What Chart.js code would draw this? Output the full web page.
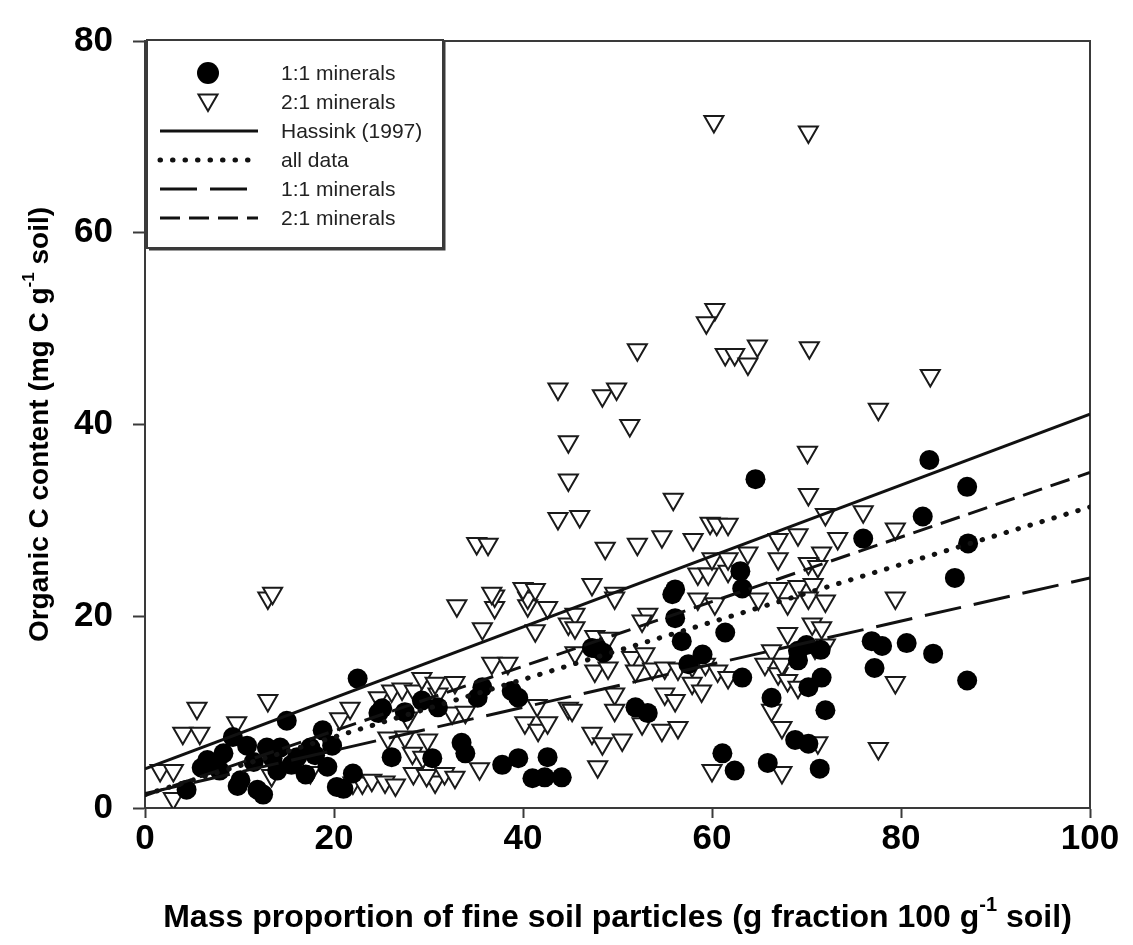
<!DOCTYPE html>
<html><head><meta charset="utf-8">
<script src="https://cdn.jsdelivr.net/npm/chart.js@4/dist/chart.umd.min.js"></script>
<style>html,body{margin:0;padding:0;background:#fff;}#wrap{width:1133px;height:945px;}</style>
</head><body><div id="wrap"><canvas id="c" width="1133" height="945"></canvas></div>
<script>
// ---- data ----
const xTicks = [0, 20, 40, 60, 80, 100];
const yTicks = [0, 20, 40, 60, 80];
const legendLabels = ['1:1 minerals', '2:1 minerals', 'Hassink (1997)', 'all data', '1:1 minerals', '2:1 minerals'];
const xTitleParts = ['Mass proportion of fine soil particles (g fraction 100 g', '-1', ' soil)'];
const yTitleParts = ['Organic C content (mg C g', '-1', ' soil)'];

const min11X = [4.4,6.0,6.6,7.9,8.3,9.3,9.8,10.1,10.8,11.5,11.9,12.5,12.9,13.5,14.0,14.3,15.0,15.5,16.1,17.0,17.5,18.0,18.8,19.3,19.8,20.3,21.0,22.0,22.5,
  24.7,25.1,26.1,27.5,29.3,30.4,31.0,33.5,33.9,35.2,35.7,37.8,38.8,39.5,39.5,41.0,42.3,42.6,44.1,
  47.3,47.9,48.5,51.9,53.2,55.8,56.1,56.1,56.8,57.5,59.0,61.1,61.4,62.4,63.0,63.2,63.2,64.6,65.9,66.3,68.8,69.1,69.1,70.0,70.2,70.2,71.4,71.5,71.6,72.0,76.0,76.9,77.2,78.0,80.6,82.3,83.0,83.4,85.7,87.0,87.0,87.1];
const min11Y = [1.9,4.2,5.0,3.9,5.7,7.4,2.3,2.9,6.5,4.8,1.9,1.4,6.3,5.2,3.9,6.3,9.1,4.5,5.3,3.5,6.3,5.5,8.1,4.3,6.5,2.2,2.0,3.6,13.5,
  9.9,10.4,5.3,10.0,11.2,5.2,10.5,6.8,5.7,11.5,12.6,4.5,12.2,11.5,5.2,3.1,3.2,5.3,3.2,
  16.7,16.6,16.2,10.5,9.9,22.3,19.8,22.8,17.4,15.0,16.0,5.7,18.3,3.9,24.7,13.6,22.9,34.3,4.7,11.5,7.1,16.4,15.4,17.0,12.6,6.7,4.1,16.5,13.6,10.2,28.1,17.4,14.6,16.9,17.2,30.4,36.3,16.1,24.0,33.5,13.3,27.6];

const min21X = [1.6,3.0,3.0,4.0,5.8,5.5,9.7,13.0,13.0,13.5,13.4,17.5,20.6,21.7,22.0,
  23.0,24.0,25.4,26.5,30.7,28.4,29.8,31.7,32.8,35.4,28.3,29.4,25.7,27.5,29.9,27.8,32.5,33.9,24.7,26.1,27.2,28.5,31.0,29.3,30.7,32.8,36.7,38.4,35.7,41.3,33.0,37.0,37.0,40.5,40.5,42.6,44.8,36.7,40.0,41.3,35.1,36.3,40.2,41.6,42.6,41.5,44.8,
  43.7,44.8,44.8,43.7,46.0,48.4,49.9,51.3,52.1,55.9,48.7,52.1,54.7,58.0,59.8,60.5,61.7,67.0,47.3,49.7,58.5,59.6,61.7,60.0,61.7,63.8,67.0,67.0,
  60.2,70.2,60.3,59.4,61.4,62.4,63.8,64.8,70.3,83.1,
  45.5,45.5,45.5,49.7,53.2,52.6,47.6,49.0,58.5,60.3,64.9,51.5,52.9,47.6,49.0,51.9,53.7,55.0,56.4,57.9,59.3,60.6,61.7,57.9,58.9,55.0,56.1,49.7,45.2,49.7,52.9,52.6,54.7,56.4,47.3,48.4,50.5,47.9,60.0,66.3,65.6,67.0,66.3,67.4,67.4,
  77.6,70.1,70.2,72.0,76.0,69.1,73.3,79.4,71.6,70.2,71.2,69.1,70.7,79.4,68.0,70.2,72.0,70.6,71.6,68.0,70.9,72.0,67.4,68.0,69.1,79.4,71.2,77.6];
const min21Y = [3.9,3.9,1.0,7.8,7.8,10.4,8.9,11.2,21.9,22.4,3.4,3.7,9.3,10.4,2.6,
  2.6,2.9,2.7,2.4,2.7,3.6,3.4,3.6,3.2,4.1,5.7,5.3,7.3,7.4,7.1,9.4,9.9,10.0,11.5,12.2,12.4,12.2,11.9,13.5,13.0,13.1,15.1,15.1,18.7,18.5,21.1,20.9,22.1,21.1,21.9,20.9,19.2,22.4,22.9,22.8,27.6,27.5,8.9,8.1,8.9,10.7,10.4,
  43.7,38.2,34.2,30.2,30.4,43.0,43.7,39.9,47.8,32.2,27.1,27.5,28.3,28.0,29.7,29.6,29.6,28.0,23.3,22.4,24.4,24.4,24.7,26.0,26.0,26.6,26.0,22.9,
  71.6,70.5,52.0,50.6,47.3,47.3,46.3,48.2,48.0,45.1,
  20.2,18.8,16.2,21.9,20.2,19.5,17.9,17.7,21.8,21.3,21.8,15.7,16.1,14.3,14.6,14.3,14.5,14.6,14.5,14.8,15.0,14.3,13.6,13.0,12.2,11.9,11.2,11.9,10.2,10.2,9.9,8.8,8.1,8.4,7.8,6.7,7.1,4.3,3.9,16.4,15.0,14.0,10.2,8.4,3.7,
  41.6,37.1,32.7,30.6,30.9,28.5,28.1,29.1,26.6,25.5,25.2,23.1,23.3,21.9,21.3,21.9,21.6,19.2,18.8,18.2,16.7,17.0,15.0,13.3,12.6,13.1,6.8,6.2];

const lineX = [0, 100];
const hassinkY = [4.09, 41.09];
const allDataY = [1.4, 31.4];
const fit11Y = [1.5, 24.0];
const fit21Y = [1.3, 35.0];

// ---- build ----
const pts = (xs, ys) => xs.map((x, i) => ({x, y: ys[i]}));
const FONT = '"Liberation Sans", Arial, Helvetica, sans-serif';
const INK = '#111';
const FRAME = '#3a3a3a';

const datasets = [
  {label: legendLabels[0], type: 'scatter', data: pts(min11X, min11Y), order: 1,
   pointStyle: 'circle', pointRadius: 10, pointHoverRadius: 10, backgroundColor: '#000', borderColor: '#000', borderWidth: 0},
  {label: legendLabels[1], type: 'scatter', data: pts(min21X, min21Y), order: 2,
   pointStyle: 'triangle', rotation: 180, pointRadius: 11, pointHoverRadius: 11, backgroundColor: '#fff', borderColor: '#1a1a1a', borderWidth: 2},
  {label: legendLabels[2], type: 'line', data: pts(lineX, hassinkY), order: 0,
   borderColor: INK, borderWidth: 3, pointRadius: 0, fill: false, borderDash: []},
  {label: legendLabels[3], type: 'line', data: pts(lineX, allDataY), order: 0,
   borderColor: INK, borderWidth: 5, pointRadius: 0, fill: false, borderDash: [0.5, 12], borderCapStyle: 'round'},
  {label: legendLabels[4], type: 'line', data: pts(lineX, fit11Y), order: 0,
   borderColor: INK, borderWidth: 3, pointRadius: 0, fill: false, borderDash: [37, 13]},
  {label: legendLabels[5], type: 'line', data: pts(lineX, fit21Y), order: 0,
   borderColor: INK, borderWidth: 3, pointRadius: 0, fill: false, borderDash: [20, 9]}
];

const framePlugin = {
  id: 'frame',
  beforeDatasetsDraw(chart) {
    const {ctx, chartArea: a} = chart;
    ctx.save();
    ctx.strokeStyle = FRAME; ctx.lineWidth = 2;
    ctx.strokeRect(a.left, a.top, a.right - a.left, a.bottom - a.top);
    ctx.restore();
  }
};

function drawSupText(ctx, parts, size, cx, cy) {
  const main = 'bold ' + size + 'px ' + FONT;
  const sup = 'bold ' + Math.round(size * 0.62) + 'px ' + FONT;
  ctx.font = main; const w0 = ctx.measureText(parts[0]).width; const w2 = ctx.measureText(parts[2]).width;
  ctx.font = sup; const w1 = ctx.measureText(parts[1]).width;
  let x = cx - (w0 + w1 + w2) / 2;
  ctx.textBaseline = 'middle'; ctx.textAlign = 'left';
  ctx.font = main; ctx.fillText(parts[0], x, cy); x += w0;
  ctx.font = sup; ctx.fillText(parts[1], x, cy - size * 0.38); x += w1;
  ctx.font = main; ctx.fillText(parts[2], x, cy);
}

const titlePlugin = {
  id: 'titles',
  afterDraw(chart) {
    const {ctx, chartArea: a} = chart;
    ctx.save();
    ctx.fillStyle = '#000';
    drawSupText(ctx, xTitleParts, 32, (a.left + a.right) / 2, 918);
    ctx.translate(40, (a.top + a.bottom) / 2);
    ctx.rotate(-Math.PI / 2);
    drawSupText(ctx, yTitleParts, 28, 0, 0);
    ctx.restore();
  }
};

const legendPlugin = {
  id: 'insideLegend',
  afterDraw(chart) {
    const {ctx} = chart;
    const box = {l: 147, t: 40, r: 443, b: 248};
    ctx.save();
    ctx.fillStyle = '#fff';
    ctx.fillRect(box.l, box.t, box.r - box.l, box.b - box.t);
    ctx.strokeStyle = FRAME; ctx.lineWidth = 2;
    ctx.strokeRect(box.l, box.t, box.r - box.l, box.b - box.t);
    ctx.lineWidth = 3;
    ctx.beginPath(); ctx.moveTo(box.r + 1, box.t + 2); ctx.lineTo(box.r + 1, box.b + 1); ctx.lineTo(box.l + 2, box.b + 1); ctx.stroke();
    const markerX = 208, x0 = 160, x1 = 258, textX = 281, rowY0 = 73, step = 29;
    chart.data.datasets.forEach((ds, i) => {
      const y = rowY0 + i * step;
      ctx.save();
      if (ds.type === 'scatter') {
        ctx.fillStyle = ds.backgroundColor; ctx.strokeStyle = ds.borderColor; ctx.lineWidth = ds.borderWidth;
        Chart.helpers.drawPoint(ctx, {pointStyle: ds.pointStyle, radius: 11, rotation: ds.rotation || 0, borderWidth: ds.borderWidth}, markerX, ds.pointStyle === 'triangle' ? y - 2 : y);
      } else {
        ctx.strokeStyle = ds.borderColor; ctx.lineWidth = ds.borderWidth;
        ctx.lineCap = ds.borderCapStyle || 'butt';
        ctx.setLineDash(ds.borderDash || []);
        ctx.beginPath(); ctx.moveTo(x0, y); ctx.lineTo(x1, y); ctx.stroke();
      }
      ctx.restore();
      ctx.fillStyle = '#222';
      ctx.font = '21px ' + FONT;
      ctx.textBaseline = 'middle'; ctx.textAlign = 'left';
      ctx.fillText(ds.label, textX, y + 1);
    });
    ctx.restore();
  }
};

new Chart(document.getElementById('c'), {
  type: 'scatter',
  data: {datasets},
  plugins: [framePlugin, legendPlugin, titlePlugin],
  options: {
    responsive: false,
    animation: false,
    events: [],
    layout: {padding: {top: 37, right: 43, left: 0, bottom: 0}},
    plugins: {legend: {display: false}, tooltip: {enabled: false}},
    scales: {
      x: {
        type: 'linear', min: xTicks[0], max: xTicks[xTicks.length - 1],
        afterFit(s) { s.height = 137; },
        afterBuildTicks(s) { s.ticks = xTicks.map(v => ({value: v})); },
        grid: {drawOnChartArea: false, drawTicks: true, tickLength: 10, tickColor: FRAME, tickWidth: 2},
        border: {display: true, color: FRAME, width: 2},
        ticks: {color: '#000', padding: 0, maxRotation: 0, font: {family: FONT, size: 35, weight: 'bold'}}
      },
      y: {
        type: 'linear', min: yTicks[0], max: yTicks[yTicks.length - 1],
        afterFit(s) { s.width = 145; },
        afterBuildTicks(s) { s.ticks = yTicks.map(v => ({value: v})); },
        grid: {drawOnChartArea: false, drawTicks: true, tickLength: 12, tickColor: FRAME, tickWidth: 2},
        border: {display: true, color: FRAME, width: 2},
        ticks: {color: '#000', padding: 20, font: {family: FONT, size: 35, weight: 'bold'}}
      }
    }
  }
});
</script></body></html>
